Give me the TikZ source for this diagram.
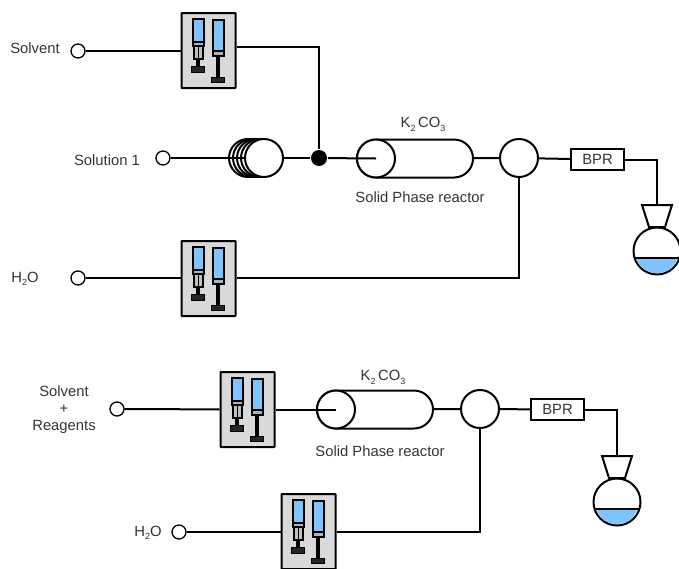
\documentclass[tikz,border=0pt]{standalone}
\usepackage{fontspec}
\setmainfont{Liberation Sans}
\usepackage{tikz}
\usetikzlibrary{positioning,shapes.misc}
\definecolor{liquid}{HTML}{7FC4FF}
\definecolor{pumpgray}{HTML}{D9D9D9}
\newcommand{\saltname}{K\raisebox{-3.5pt}{\fontsize{9}{9}\selectfont 2}\,CO\raisebox{-3.5pt}{\fontsize{9}{9}\selectfont 3}}
\newcommand{\watername}{H\raisebox{-3.5pt}{\fontsize{9}{9}\selectfont 2}O}

\begin{document}
\begin{tikzpicture}[
  x=1pt, y=-1pt, line width=2pt,
  label/.style={font=\fontsize{14.8}{16}\selectfont, text=black!80, align=center, inner sep=0pt},
  port/.style={draw, circle, line width=1.3pt, fill=white, minimum size=14pt, inner sep=0pt},
  pump/.style={draw, line width=2pt, fill=pumpgray, rounded corners=0.5pt, minimum width=54pt, minimum height=75pt, inner sep=0pt},
  disc/.style={draw, circle, fill=white, minimum size=38pt, inner sep=0pt},
  reactor/.style={draw, rounded rectangle, fill=white, minimum width=116pt, minimum height=38pt, inner sep=0pt},
  bpr/.style={draw, fill=white, minimum width=53pt, minimum height=21pt, inner sep=0pt, font=\fontsize{14.8}{16}\selectfont, text=black!80},
  dot/.style={circle, fill=black, minimum size=16pt, inner sep=0pt},
  syringes/.pic={
    % left syringe, short stroke
    \draw[line width=2pt, fill=liquid] (-16,-32) rectangle (-5,-9);
    \draw[line width=2pt, fill=gray!60] (-16,-9) rectangle (-5,-5);
    \draw[line width=2pt, fill=gray!50] (-15,-5) rectangle (-6,8);
    \draw[line width=0.8pt] (-10.5,-5) -- (-10.5,8);
    \draw[line width=4pt] (-10.5,8) -- (-10.5,16);
    \draw[fill=black!85, line width=0.8pt] (-17,16) rectangle (-4,22);
    % right syringe, long stroke
    \draw[line width=2pt, fill=liquid] (4,-31) rectangle (15,0);
    \draw[line width=2pt, fill=gray!60] (4,0) rectangle (15,5);
    \draw[line width=3.4pt] (9.5,5) -- (9.5,27);
    \draw[fill=black!85, line width=0.8pt] (3,27) rectangle (16,32);
  },
  flask/.pic={
    \fill[liquid] (-20.4,7) -- (20.4,7) arc[start angle=17, end angle=163, radius=21.4] -- cycle;
    \draw (0,0) circle[radius=23.5];
    \draw (-21.8,7) -- (21.8,7);
    \draw[fill=white] (-15,-46) -- (15,-46) -- (8,-24) -- (-8,-24) -- cycle;
    \coordinate (-top) at (0,-46);
  },
  ]
  \useasboundingbox (0,0) rectangle (679,568);

  % upper line
  \node[label] (solvent) at (35,48) {Solvent};
  \node[port] (portsolvent) at (78,51) {};
  \node[pump] (pumpa) at (208.5,50.5) {};
  \node[label] (solution) at (107,160) {Solution 1};
  \node[port] (portsolution) at (163,158) {};
  \foreach \cx in {248,252,256,260}
    \node[disc] at (\cx,158) {};
  \node[disc] (coil) at (264,158) {};
  \node[dot] (mix) at (319,158) {};
  \node[reactor] (reactora) at (415,158.5) {};
  \node[disc] (capa) at (376,158.5) {};
  \node[label, above=6pt of reactora, xshift=8pt] (saltA) {\saltname};
  \node[label, below=12pt of reactora, xshift=5pt] (phaseA) {Solid Phase reactor};
  \node[disc] (teea) at (519,158) {};
  \node[bpr] (bpra) at (597.5,159.5) {BPR};
  \pic (flaska) at (657,251) {flask};
  \node[label] (watera) at (25,279) {\watername};
  \node[port] (portwatera) at (78,278) {};
  \node[pump] (pumpb) at (208.5,278.5) {};

  \draw (portsolvent) -- (pumpa.west |- portsolvent);
  \draw (pumpa.east |- 0,47) -| (mix);
  \draw (portsolution) -- (coil);
  \draw (coil) -- (mix);
  \draw (mix) -- (capa.center);
  \draw (reactora) -- (teea);
  \draw (teea) -- (bpra);
  \draw (bpra.east) -| (flaska-top);
  \draw (portwatera) -- (pumpb.west |- portwatera);
  \draw (pumpb.east |- portwatera) -| (teea);

  % lower line
  \node[label] (solventb) at (64,410) {Solvent\\[1pt]+\\[1pt]Reagents};
  \node[port] (portreagents) at (117,409) {};
  \node[pump] (pumpc) at (247.5,409.5) {};
  \node[reactor] (reactorb) at (375,409.5) {};
  \node[disc] (capb) at (336,409.5) {};
  \node[label, above=4pt of reactorb, xshift=8pt] (saltB) {\saltname};
  \node[label, below=15pt of reactorb, xshift=5pt] (phaseB) {Solid Phase reactor};
  \node[disc] (teeb) at (480,409) {};
  \node[bpr] (bprb) at (557.5,409.5) {BPR};
  \pic (flaskb) at (617,502) {flask};
  \node[label] (waterb) at (148,533) {\watername};
  \node[port] (portwaterb) at (179,532) {};
  \node[pump] (pumpd) at (308.5,531.5) {};

  \draw (portreagents) -- (pumpc);
  \draw (pumpc) -- (capb.center);
  \draw (reactorb) -- (teeb);
  \draw (teeb) -- (bprb);
  \draw (bprb.east) -| (flaskb-top);
  \draw (portwaterb) -- (pumpd.west |- portwaterb);
  \draw (pumpd.east |- portwaterb) -| (teeb);

  \foreach \p in {pumpa,pumpb,pumpc,pumpd}
    \pic at (\p) {syringes};
\end{tikzpicture}
\end{document}
